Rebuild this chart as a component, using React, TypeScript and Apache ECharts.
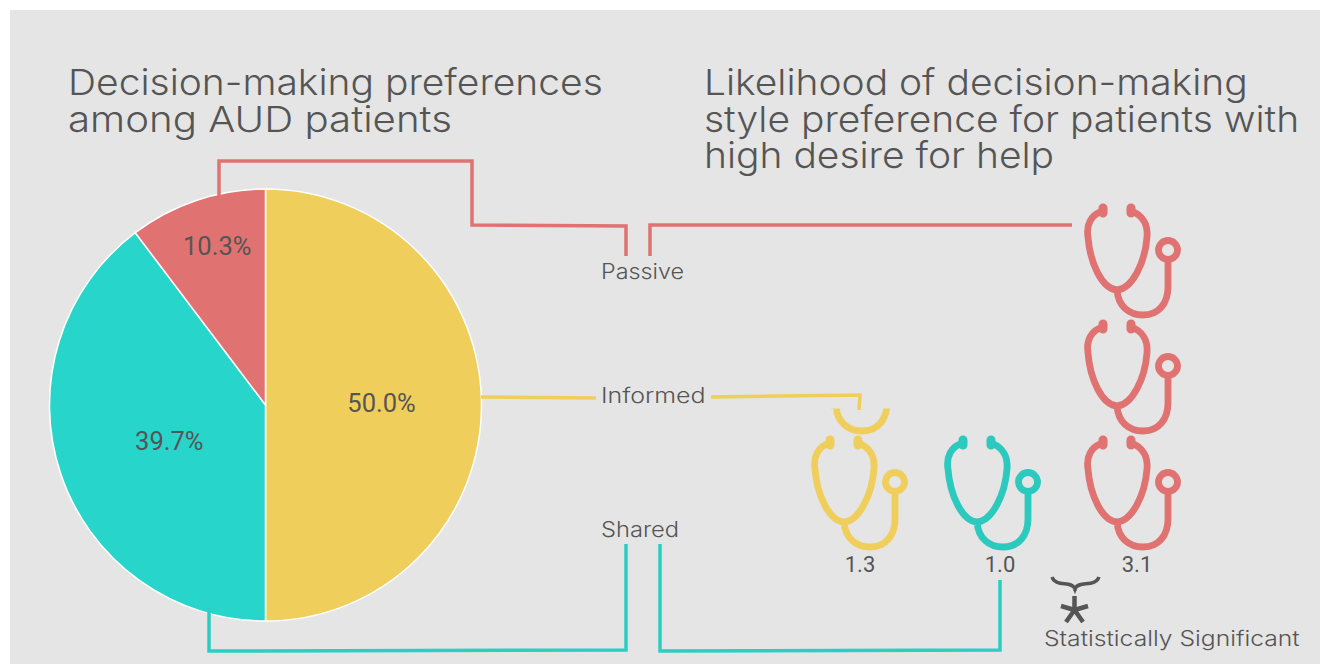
import React, { useEffect, useRef } from "react";
import * as echarts from "echarts";

const pieCategories = ["Informed", "Shared", "Passive"];
const pieValues = [50.0, 39.7, 10.3];
const pieColors = ["#F0CE5C", "#27D5CA", "#E07272"];
const likelihoodCategories = ["Informed", "Shared", "Passive"];
const likelihoodValues = [1.3, 1.0, 3.1];
const lineColors = { Passive: "#E07272", Informed: "#F0CE5C", Shared: "#2BCEC3" };
const iconColors = ["#F0CE5C", "#2BC9BE", "#E07272"];
const titleLeft = ["Decision-making preferences", "among AUD patients"];
const titleRight = ["Likelihood of decision-making", "style preference for patients with", "high desire for help"];

const iconX = [787, 920, 1060];
const labelX = [860, 1000, 1137];
const PITCH = 116;
const BASE_Y = 551;
const PARTIAL_DX = -8;

const BODY =
  "M43 20C31 23 26 34 28 46C30 72 42 98 57 99C72 98 85 72 87 46C88 34 83 24 71 20" +
  "M57 99C58 115 69 124 83 124C99 124 108 112 108 96L108 69" +
  "M117.5 59A9.5 9.5 0 1 1 98.5 59A9.5 9.5 0 1 1 117.5 59";
const EARS = "M43 17L43 22M71 17L71 22";
const ICON_BOTTOM = 128;

const BRACE = "M1052 577C1056 588 1072 580 1075 589C1078 580 1095 588 1099 577M1075 587L1075 591";
const STAR = "M1074.5 596L1074.5 610M1074.5 610L1061 606M1074.5 610L1066 622M1074.5 610L1083 622M1074.5 610L1088 606";

echarts.graphic.registerShape("brace", echarts.graphic.extendPath(BRACE, {}) as any);
echarts.graphic.registerShape("star", echarts.graphic.extendPath(STAR, {}) as any);

const SANS = "Inter";
const TEXT = "#555555";

function poly(points: number[][], stroke: string) {
  return {
    type: "polyline",
    z: 5,
    silent: true,
    shape: { points },
    style: { stroke, lineWidth: 3.5, fill: "none", lineJoin: "miter" },
  };
}
function txt(text: string, x: number, y: number, fontSize: number, scaleX = 1, lineHeight?: number) {
  return {
    type: "text",
    z: 6,
    silent: true,
    x,
    y,
    scaleX,
    style: {
      text,
      fill: TEXT,
      font: `300 ${fontSize}px ${SANS}`,
      lineHeight,
      textAlign: "left",
      textVerticalAlign: "middle",
    },
  };
}

function renderIcons(_: any, api: any) {
  const idx = api.value(0);
  const v = api.value(1);
  const x = iconX[idx];
  const color = iconColors[idx];
  const whole = Math.floor(v + 1e-6);
  const frac = v - whole;
  const style = { fill: "none", stroke: color, lineWidth: 6.8, lineCap: "round" };
  const children: any[] = [];
  const icon = (bottom: number, clipHeight?: number) => {
    const item: any = {
      type: "group",
      x: clipHeight != null ? x + PARTIAL_DX : x,
      y: bottom - ICON_BOTTOM,
      children: [
        { type: "path", shape: { pathData: BODY }, style },
        { type: "path", shape: { pathData: EARS }, style: { ...style, lineWidth: 9, lineCap: "round" } },
      ],
    };
    if (clipHeight != null) {
      item.children = item.children.map((c: any) => ({
        ...c,
        clipPath: { type: "rect", shape: { x: 0, y: ICON_BOTTOM - clipHeight, width: 140, height: clipHeight } },
      }));
    }
    return item;
  };
  for (let i = 0; i < whole; i++) {
    const bottom = api.coord([0, i])[1];
    children.push(icon(bottom));
  }
  if (frac >= 0.2) {
    const bottom = api.coord([0, whole])[1];
    const top = api.coord([0, whole + frac])[1];
    children.push(icon(bottom, (bottom - top) * 0.76));
  }
  children.push({
    type: "text",
    x: labelX[idx],
    y: 564,
    style: { text: v.toFixed(1), fill: TEXT, font: "400 22px Roboto", textAlign: "center", textVerticalAlign: "middle" },
  });
  return { type: "group", children };
}

export default function App() {
  const ref = useRef<HTMLDivElement>(null);
  useEffect(() => {
    document.body.style.margin = "0";
    const chart = echarts.init(ref.current!, null, { renderer: "svg" });
    chart.setOption({
      animation: false,
      grid: { left: 0, width: 1320, top: BASE_Y - 4 * PITCH, height: 4 * PITCH },
      xAxis: { type: "value", min: 0, max: 2, show: false },
      yAxis: { type: "value", min: 0, max: 4, show: false },
      series: [
        {
          type: "pie",
          center: [265.5, 405],
          radius: [0, 216],
          startAngle: 90,
          silent: true,
          itemStyle: { borderColor: "#ffffff", borderWidth: 1.5 },
          label: { position: "inside", color: TEXT, fontFamily: "Roboto", fontSize: 25.5, formatter: (p: any) => p.value.toFixed(1) + "%" },
          labelLine: { show: false },
          data: pieCategories.map((name, i) => ({
            name,
            value: pieValues[i],
            itemStyle: { color: pieColors[i] },
            label: { offset: i === 0 ? [5, -2] : i === 1 ? [9, 1] : [-13, -54] },
          })),
        },
        {
          type: "custom",
          silent: true,
          clip: false,
          renderItem: renderIcons,
          encode: { x: 0, y: 1 },
          data: likelihoodCategories.map((_, i) => [i, likelihoodValues[i]]),
          z: 4,
        },
      ],
      graphic: [
        { type: "rect", z: -10, silent: true, shape: { x: 10, y: 10, width: 1310, height: 654 }, style: { fill: "#E5E5E5" } },
        txt(titleLeft[0], 68, 82, 36, 1.083, 36),
        txt(titleLeft[1], 68, 119, 36, 1.118, 36),
        txt(titleRight.join("\n"), 704, 119, 36, 1.082, 36.5),
        txt("Passive", 601, 271, 21, 1.11),
        txt("Informed", 601, 396, 21, 1.19),
        txt("Shared", 601, 529, 21, 1.13),
        txt("Statistically Significant", 1044, 639, 21, 1.175),
        poly([[219, 196], [219, 161], [472, 161], [472, 225], [626, 226], [626, 256]], lineColors.Passive),
        poly([[650, 256], [650, 225], [1072, 225]], lineColors.Passive),
        poly([[481, 397], [596, 398]], lineColors.Informed),
        poly([[711, 397], [860, 395], [859, 410]], lineColors.Informed),
        poly([[209, 608], [209, 651], [626, 650], [626, 544]], lineColors.Shared),
        poly([[660, 544], [660, 651], [1000, 650], [1000, 580]], lineColors.Shared),
        { type: "brace", z: 6, silent: true, style: { fill: "none", stroke: TEXT, lineWidth: 3.5 } },
        { type: "star", z: 6, silent: true, style: { fill: "none", stroke: TEXT, lineWidth: 4.5 } },
      ],
    });
    return () => chart.dispose();
  }, []);
  return <div ref={ref} style={{ width: 1320, height: 664 }} />;
}
